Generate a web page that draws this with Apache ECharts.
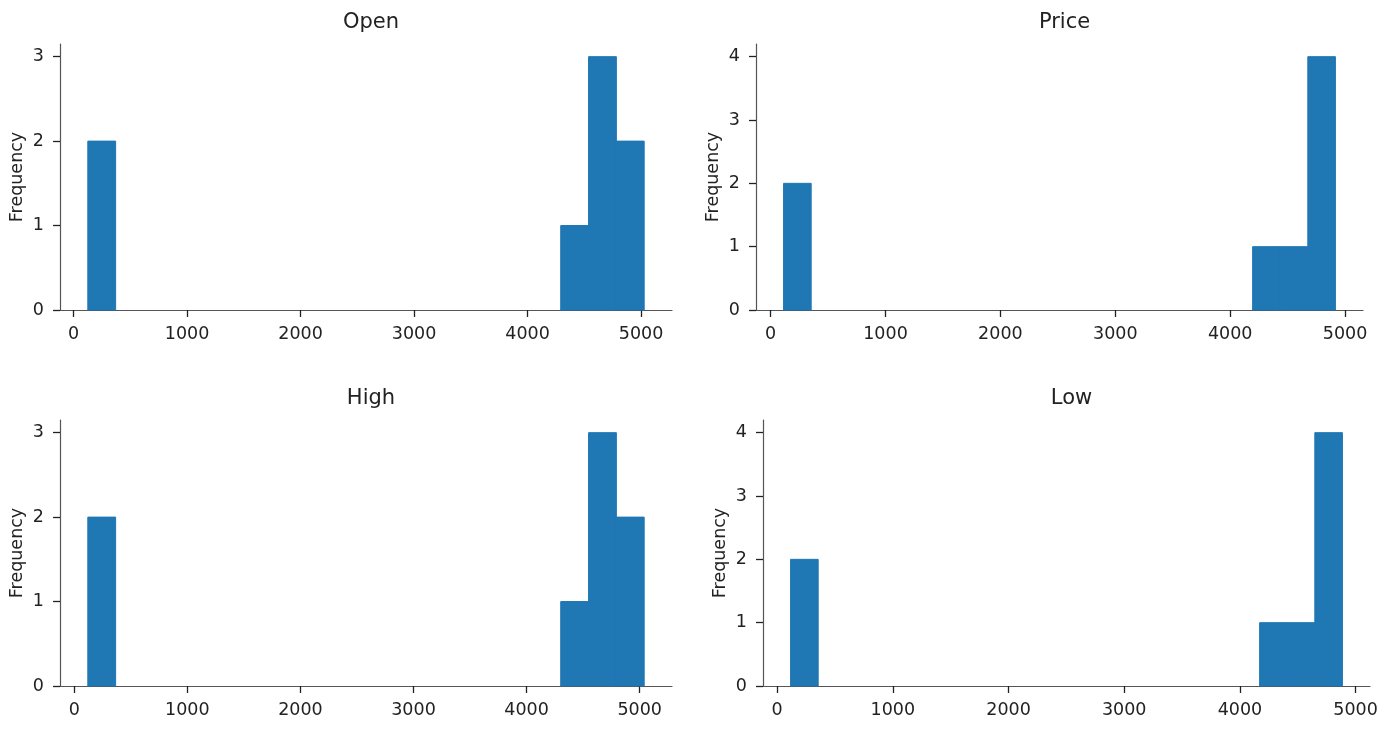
<!DOCTYPE html>
<html>
<head>
<meta charset="utf-8">
<script src="https://cdn.jsdelivr.net/npm/echarts@6/dist/echarts.min.js"></script>
<style>
html,body{margin:0;padding:0;background:#fff;}
#chart{width:1395px;height:730px;}
</style>
</head>
<body>
<div id="chart"></div>
<script>
// ---- Data (20 bins each) ----
const titles = ['Open', 'Price', 'High', 'Low'];
const binMin = [126, 113, 120, 116];
const binMax = [5027, 4916, 5040, 4886];
const openCounts  = [2,0,0,0,0,0,0,0,0,0,0,0,0,0,0,0,0,1,3,2];
const priceCounts = [2,0,0,0,0,0,0,0,0,0,0,0,0,0,0,0,0,1,1,4];
const highCounts  = [2,0,0,0,0,0,0,0,0,0,0,0,0,0,0,0,0,1,3,2];
const lowCounts   = [2,0,0,0,0,0,0,0,0,0,0,0,0,0,0,0,0,1,1,4];
const xTickValues = [0, 1000, 2000, 3000, 4000, 5000];
const yTickValues = [[0,1,2,3],[0,1,2,3,4],[0,1,2,3],[0,1,2,3,4]];
const allCounts = [openCounts, priceCounts, highCounts, lowCounts];

// ---- Layout ----
const grids = [
  {left: 60,  top: 44,  width: 612, height: 266},
  {left: 756, top: 44,  width: 607, height: 266},
  {left: 60,  top: 420, width: 612, height: 266},
  {left: 763, top: 420, width: 607, height: 266}
];
const FONT = 'DejaVu Sans';
const TXT = '#222';
const BAR = '#1f77b4';

const chart = echarts.init(document.getElementById('chart'), null, {renderer: 'canvas'});

const xAxes = [], yAxes = [], series = [], titleOpts = [];
allCounts.forEach((counts, i) => {
  const lo = binMin[i], hi = binMax[i], n = counts.length;
  const w = (hi - lo) / n;
  const data = counts.map((c, k) => [lo + k * w, lo + (k + 1) * w, c]);
  const range = hi - lo;
  const maxC = Math.max.apply(null, counts);
  xAxes.push({
    type: 'value', gridIndex: i,
    min: lo - 0.05 * range, max: hi + 0.05 * range,
    splitLine: {show: false},
    axisLine: {show: true, onZero: false, lineStyle: {color: '#555', width: 1.2}},
    axisTick: {show: true, length: 7, customValues: xTickValues, lineStyle: {color: '#222', width: 1.3}},
    axisLabel: {customValues: xTickValues, margin: 15, color: TXT, fontFamily: FONT, fontSize: 17.5,
      formatter: v => String(Math.round(v))}
  });
  yAxes.push({
    type: 'value', gridIndex: i,
    min: 0, max: maxC * 1.05,
    name: 'Frequency', nameLocation: 'middle', nameRotate: 90, nameGap: 34,
    nameTextStyle: {color: TXT, fontFamily: FONT, fontSize: 17.5},
    splitLine: {show: false},
    axisLine: {show: true, onZero: false, lineStyle: {color: '#555', width: 1.2}},
    axisTick: {show: true, length: 7, customValues: yTickValues[i], lineStyle: {color: '#222', width: 1.3}},
    axisLabel: {customValues: yTickValues[i], margin: 16, color: TXT, fontFamily: FONT, fontSize: 17.5,
      formatter: v => String(Math.round(v))}
  });
  series.push({
    type: 'custom', xAxisIndex: i, yAxisIndex: i,
    data: data,
    encode: {x: [0, 1], y: 2},
    clip: false,
    renderItem: function (params, api) {
      const c = api.value(2);
      if (!c) return null;
      const p0 = api.coord([api.value(0), c]);
      const p1 = api.coord([api.value(1), 0]);
      return {
        type: 'rect',
        shape: {x: p0[0], y: p0[1], width: p1[0] - p0[0], height: p1[1] - p0[1]},
        style: {fill: BAR, stroke: BAR, lineWidth: 1}
      };
    }
  });
  const g = grids[i];
  titleOpts.push({
    text: titles[i],
    left: g.left + g.width / 2, top: g.top - 37,
    textAlign: 'center',
    textStyle: {color: TXT, fontFamily: FONT, fontSize: 21, fontWeight: 'normal'}
  });
});

chart.setOption({
  backgroundColor: '#fff',
  animation: false,
  title: titleOpts,
  grid: grids.map(g => Object.assign({containLabel: false}, g)),
  xAxis: xAxes,
  yAxis: yAxes,
  series: series
});
</script>
</body>
</html>
